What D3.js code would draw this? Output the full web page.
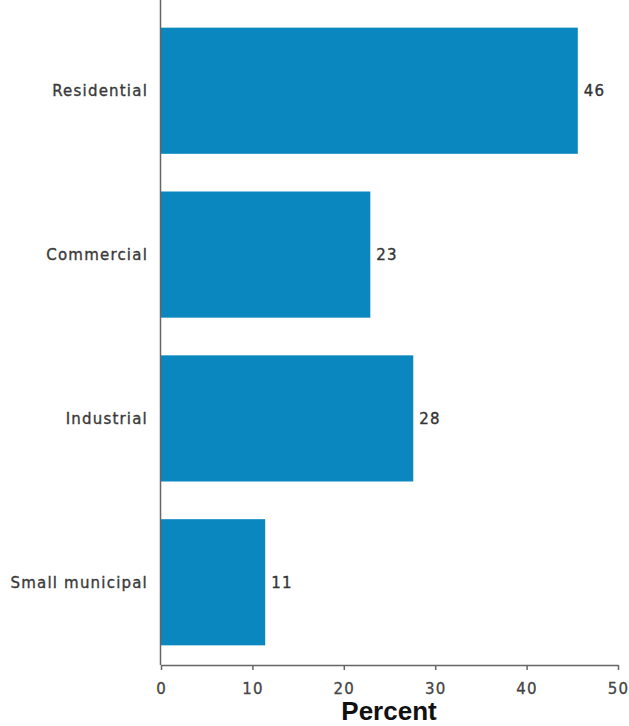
<!DOCTYPE html>
<html><head><meta charset="utf-8">
<script src="https://cdn.jsdelivr.net/npm/d3@7"></script>
<style>body{margin:0;background:#fff}svg{display:block}</style>
</head><body>
<svg id="c" width="629" height="726"></svg>
<script>
const categories = ["Residential", "Commercial", "Industrial", "Small municipal"];
const values = [45.6, 22.9, 27.6, 11.4];
const valueLabels = ["46", "23", "28", "11"];
const xTicks = [0, 10, 20, 30, 40, 50];
const xTitle = "Percent";

const svg = d3.select("#c");
const x = d3.scaleLinear().domain([0, 50]).range([161, 618]);
const y = d3.scaleBand().domain(categories).range([8, 665]).paddingInner(0.23).paddingOuter(0.12);
const font = "DejaVu Sans, Verdana, sans-serif";

svg.selectAll("rect.bar").data(categories).enter().append("rect")
  .attr("x", x(0)).attr("y", d => y(d))
  .attr("width", (d, i) => x(values[i]) - x(0))
  .attr("height", y.bandwidth())
  .attr("fill", "#0a87bf");

svg.selectAll("text.val").data(categories).enter().append("text")
  .attr("x", (d, i) => x(values[i]) + 6)
  .attr("y", d => y(d) + y.bandwidth() / 2)
  .attr("dy", "0.35em")
  .attr("font-family", font).attr("font-size", 15).attr("letter-spacing", 1.2)
  .attr("fill", "#333").attr("stroke", "#333").attr("stroke-width", 0.35)
  .text((d, i) => valueLabels[i]);

svg.selectAll("text.cat").data(categories).enter().append("text")
  .attr("x", 148)
  .attr("y", d => y(d) + y.bandwidth() / 2)
  .attr("dy", "0.35em")
  .attr("text-anchor", "end")
  .attr("font-family", font).attr("font-size", 15).attr("letter-spacing", 1.2)
  .attr("fill", "#3a3a3a").attr("stroke", "#3a3a3a").attr("stroke-width", 0.35)
  .text(d => d);

// y axis line
svg.append("line").attr("x1", 160.5).attr("x2", 160.5).attr("y1", 0).attr("y2", 665)
  .attr("stroke", "#666").attr("stroke-width", 1.5);

const xAxis = d3.axisBottom(x).tickValues(xTicks).tickSize(5).tickSizeOuter(0);
const gx = svg.append("g").attr("transform", "translate(0,665)").call(xAxis);
gx.select(".domain").attr("stroke", "#666").attr("stroke-width", 1.5);
gx.selectAll(".tick line").attr("stroke", "#666").attr("stroke-width", 1.5);
gx.selectAll(".tick text").attr("font-family", font).attr("font-size", 15).attr("letter-spacing", 1.2)
  .attr("fill", "#444").attr("stroke", "#444").attr("stroke-width", 0.3)
  .attr("y", 24).attr("dy", "0.35em");

svg.append("text").attr("x", 389).attr("y", 720)
  .attr("text-anchor", "middle")
  .attr("font-family", "Liberation Sans, Arial, sans-serif").attr("font-weight", "bold")
  .attr("font-size", 26).attr("fill", "#111")
  .text(xTitle);
</script>
</body></html>
